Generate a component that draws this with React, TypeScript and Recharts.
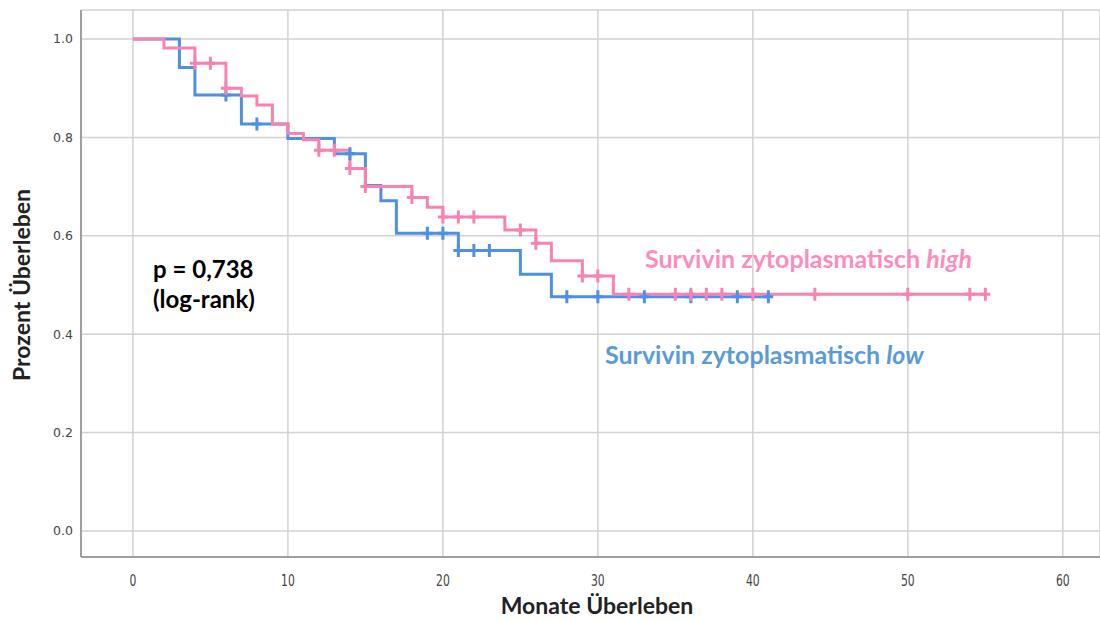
import {
  CartesianGrid,
  ComposedChart,
  Line,
  Scatter,
  XAxis,
  YAxis,
} from "recharts";

const BLUE = "#4d91e0";
const PINK = "#f883b2";
const BLUE_TEXT = "#5b9bd5";
const PINK_TEXT = "#fb8dbe";
const GRID = "#d2d2d2";
const AXIS = "#8a8a8a";

// Kaplan-Meier steps (month at which the curve drops to the given survival)
const lowTimes = [0, 3, 4, 7, 10, 13, 15, 16, 17, 21, 25, 27];
const lowSurv = [1.0, 0.942, 0.886, 0.827, 0.798, 0.767, 0.702, 0.671, 0.605, 0.57, 0.522, 0.476];
const lowEnd = 41;
const lowCensored = [6, 8, 14, 19, 20, 21, 22, 23, 28, 30, 33, 36, 39, 41];

const highTimes = [0, 2, 4, 6, 7, 8, 9, 10, 11, 12, 14, 15, 18, 19, 20, 24, 26, 27, 29, 31];
const highSurv = [
  1.0, 0.982, 0.951, 0.9, 0.884, 0.866, 0.827, 0.808, 0.795, 0.774, 0.737, 0.7, 0.678, 0.658,
  0.638, 0.612, 0.585, 0.549, 0.518, 0.481,
];
const highEnd = 55;
const highCensored = [4, 5, 6, 12, 13, 14, 15, 18, 20, 21, 22, 25, 26, 29, 30, 32, 35, 36, 37, 38, 40, 44, 50, 54, 55];

const xTicks = [0, 10, 20, 30, 40, 50, 60];
const yTicks = [0, 0.2, 0.4, 0.6, 0.8, 1.0];

type Pt = { t: number; s: number };

function steps(times: number[], surv: number[], end: number): Pt[] {
  const pts = times.map((t, i) => ({ t, s: surv[i] }));
  pts.push({ t: end, s: surv[surv.length - 1] });
  return pts;
}

function survAt(times: number[], surv: number[], t: number): number {
  let s = surv[0];
  times.forEach((tt, i) => {
    if (tt <= t) s = surv[i];
  });
  return s;
}

const lowLine = steps(lowTimes, lowSurv, lowEnd);
const highLine = steps(highTimes, highSurv, highEnd);
const lowMarks = lowCensored.map((t) => ({ t, s: survAt(lowTimes, lowSurv, t) }));
const highMarks = highCensored.map((t) => ({ t, s: survAt(highTimes, highSurv, t) }));

function cross(color: string) {
  return (props: any) => {
    const { cx, cy } = props;
    return (
      <path
        d={`M${cx - 5},${cy} H${cx + 5} M${cx},${cy - 6.5} V${cy + 6.5}`}
        stroke={color}
        strokeWidth={3}
        fill="none"
      />
    );
  };
}

function XTick(props: any) {
  const { x, y, payload } = props;
  return (
    <g transform={`translate(${x},${y})`}>
      <text
        transform="scale(0.8,1)"
        textAnchor="middle"
        dy={21}
        fill="#444"
        fontSize={15}
        fontFamily="DejaVu Sans Condensed, DejaVu Sans"
      >
        {payload.value}
      </text>
    </g>
  );
}

const font = "Lato, 'Open Sans', sans-serif";

export default function App() {
  return (
    <div style={{ position: "absolute", left: 0, top: 0, width: 1100, height: 621, background: "#fff" }}>
      <ComposedChart width={1100} height={621} margin={{ top: 10, right: 0, bottom: 0, left: 0 }}>
        <CartesianGrid stroke={GRID} strokeWidth={1.5} />
        <XAxis
          type="number"
          dataKey="t"
          domain={[-3.35, 62.4]}
          ticks={xTicks}
          allowDataOverflow
          height={64}
          axisLine={{ stroke: AXIS, strokeWidth: 1.5 }}
          tickLine={false}
          tick={<XTick />}
        />
        <YAxis
          type="number"
          dataKey="s"
          domain={[-0.053, 1.059]}
          ticks={yTicks}
          allowDataOverflow
          width={81}
          axisLine={{ stroke: AXIS, strokeWidth: 1.5 }}
          tickLine={false}
          tickFormatter={(v: number) => v.toFixed(1)}
          tick={{ fill: "#444", fontSize: 12.5, fontFamily: "DejaVu Sans" }}
        />
        <Line
          data={lowLine}
          dataKey="s"
          type="stepAfter"
          stroke={BLUE}
          strokeWidth={3}
          dot={false}
          activeDot={false}
          isAnimationActive={false}
        />
        <Line
          data={highLine}
          dataKey="s"
          type="stepAfter"
          stroke={PINK}
          strokeWidth={3}
          dot={false}
          activeDot={false}
          isAnimationActive={false}
        />
        <Scatter data={lowMarks} dataKey="s" shape={cross(BLUE)} isAnimationActive={false} />
        <Scatter data={highMarks} dataKey="s" shape={cross(PINK)} isAnimationActive={false} />
      </ComposedChart>

      <svg
        width={1100}
        height={621}
        style={{ position: "absolute", left: 0, top: 0, pointerEvents: "none" }}
      >
        <g fontFamily={font} fontWeight={700}>
          <text x={153} y={278} fontSize={24} fill="#000">
            p = 0,738
          </text>
          <text x={153} y={308} fontSize={24} fill="#000">
            (log-rank)
          </text>
          <text x={645} y={268} fontSize={25} fill={PINK_TEXT}>
            Survivin zytoplasmatisch <tspan fontStyle="italic">high</tspan>
          </text>
          <text x={605} y={364} fontSize={25} fill={BLUE_TEXT}>
            Survivin zytoplasmatisch <tspan fontStyle="italic">low</tspan>
          </text>
          <text x={597} y={614} fontSize={23} fill="#222" textAnchor="middle">
            Monate Überleben
          </text>
          <text
            x={30}
            y={285}
            fontSize={23}
            fill="#222"
            textAnchor="middle"
            transform="rotate(-90, 30, 285)"
          >
            Prozent Überleben
          </text>
        </g>
      </svg>
    </div>
  );
}
